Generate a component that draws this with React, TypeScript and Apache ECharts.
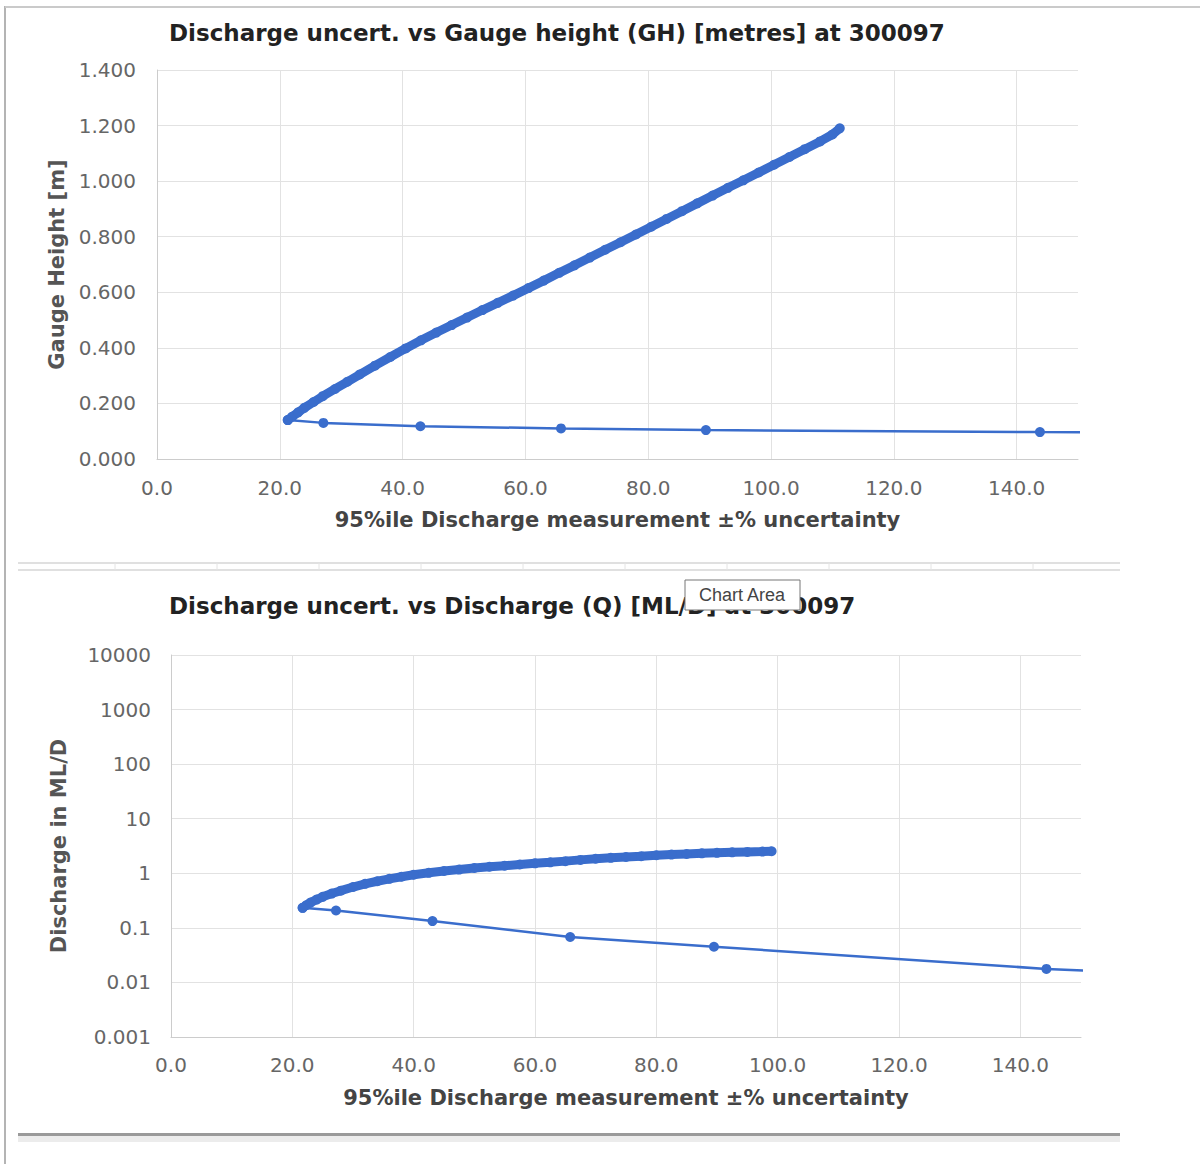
import React, { useEffect, useRef } from "react";
import * as echarts from "echarts";

const FONT = "'DejaVu Sans', sans-serif";
const BLUE = "#3a6dcc";

const gaugeTitle = "Discharge uncert. vs Gauge height (GH) [metres] at 300097";
const dischargeTitle = "Discharge uncert. vs Discharge (Q) [ML/D] at 300097";
const xAxisName = "95%ile Discharge measurement ±% uncertainty";
const gaugeAxisName = "Gauge Height [m]";
const dischargeAxisName = "Discharge in ML/D";
const tooltipText = "Chart Area";

const logTickLabels = ["0.001", "0.01", "0.1", "1", "10", "100", "1000", "10000"];

// Chart 1: uncertainty (%) vs gauge height (m)
const gaugeUpperX = [21.3, 22.0, 23.0, 24.0, 25.5, 27.0, 29.0, 31.0, 33.0, 35.5, 38.0, 40.5, 43.0, 45.5, 48.0, 50.5, 53.0, 55.5, 58.0, 60.5, 63.0, 65.5, 68.0, 70.5, 73.0, 75.5, 78.0, 80.5, 83.0, 85.5, 88.0, 90.5, 93.0, 95.5, 98.0, 100.5, 103.0, 105.5, 108.0, 110.0, 111.2];
const gaugeUpperY = [0.140, 0.152, 0.168, 0.184, 0.205, 0.226, 0.252, 0.278, 0.304, 0.336, 0.367, 0.398, 0.427, 0.455, 0.482, 0.509, 0.536, 0.562, 0.588, 0.615, 0.642, 0.670, 0.697, 0.725, 0.753, 0.780, 0.808, 0.836, 0.864, 0.892, 0.920, 0.948, 0.976, 1.003, 1.031, 1.059, 1.087, 1.115, 1.143, 1.168, 1.190];
const gaugeLowerX = [21.3, 27.1, 42.9, 65.8, 89.4, 143.8, 170];
const gaugeLowerY = [0.140, 0.130, 0.118, 0.110, 0.104, 0.097, 0.095];

// Chart 2: uncertainty (%) vs discharge (ML/D), log scale
const qUpperX = [21.7, 22.3, 23.0, 24.0, 25.0, 26.5, 28.0, 30.0, 32.0, 34.0, 36.0, 38.0, 40.0, 42.5, 45.0, 47.5, 50.0, 52.5, 55.0, 57.5, 60.0, 62.5, 65.0, 67.5, 70.0, 72.5, 75.0, 77.5, 80.0, 82.5, 85.0, 87.5, 90.0, 92.5, 95.0, 97.5, 99.0];
const qUpperY = [0.233, 0.26, 0.29, 0.33, 0.37, 0.425, 0.48, 0.56, 0.64, 0.715, 0.79, 0.865, 0.94, 1.02, 1.10, 1.17, 1.25, 1.32, 1.38, 1.45, 1.52, 1.59, 1.67, 1.76, 1.85, 1.92, 1.99, 2.06, 2.14, 2.20, 2.26, 2.32, 2.37, 2.42, 2.46, 2.50, 2.53];
const qLowerX = [21.7, 27.2, 43.1, 65.8, 89.5, 144.3, 170];
const qLowerY = [0.233, 0.208, 0.133, 0.068, 0.045, 0.0177, 0.0135];

const zip = (xs: number[], ys: number[]) => xs.map((x, i) => [x, ys[i]]);

function xAxisFor(gridIndex: number, labelMargin: number) {
  return {
    type: "value",
    gridIndex,
    min: 0,
    max: 150,
    interval: 20,
    axisLine: { show: true, lineStyle: { color: "#cccccc", width: 1 } },
    axisTick: { show: false },
    axisLabel: {
      formatter: (v: number) => v.toFixed(1),
      showMaxLabel: false,
      color: "#666666",
      fontSize: 20,
      fontFamily: FONT,
      margin: labelMargin,
    },
    splitLine: { show: true, showMaxLine: false, lineStyle: { color: "#e2e2e2", width: 1 } },
    name: xAxisName,
    nameLocation: "middle",
    nameGap: 50,
    nameTextStyle: { fontSize: 21, fontWeight: "bold", color: "#444444", fontFamily: FONT },
  };
}

function thickSeries(xi: number, data: number[][]) {
  return {
    type: "line",
    xAxisIndex: xi,
    yAxisIndex: xi,
    data,
    symbol: "circle",
    symbolSize: 10,
    showAllSymbol: true,
    lineStyle: { color: BLUE, width: 9 },
    itemStyle: { color: BLUE },
    clip: true,
  };
}

function thinSeries(xi: number, data: number[][]) {
  return {
    type: "line",
    xAxisIndex: xi,
    yAxisIndex: xi,
    data,
    symbol: "circle",
    symbolSize: 10,
    showAllSymbol: true,
    lineStyle: { color: BLUE, width: 2.5 },
    itemStyle: { color: BLUE },
    clip: true,
  };
}

export default function App() {
  const ref = useRef<HTMLDivElement>(null);

  useEffect(() => {
    if (!ref.current) return;
    const chart = echarts.init(ref.current, undefined, { renderer: "svg" });

    const sepTicks: any[] = [];
    for (let i = 0; i < 10; i++) {
      sepTicks.push({
        type: "line",
        z: 100,
        shape: { x1: 115 + i * 102, y1: 563, x2: 115 + i * 102, y2: 570 },
        style: { stroke: "#e4e4e4", lineWidth: 1 },
      });
    }

    const option: any = {
      animation: false,
      backgroundColor: "#ffffff",
      title: [
        {
          text: gaugeTitle,
          left: 169,
          top: 21,
          padding: 0,
          textStyle: { fontSize: 23, fontWeight: "bold", color: "#222222", fontFamily: FONT },
        },
        {
          text: dischargeTitle,
          left: 169,
          top: 594,
          padding: 0,
          textStyle: { fontSize: 23, fontWeight: "bold", color: "#222222", fontFamily: FONT },
        },
      ],
      grid: [
        { left: 157, right: 122, top: 70, height: 389, containLabel: false },
        { left: 171, right: 119, top: 655, height: 382, containLabel: false },
      ],
      xAxis: [xAxisFor(0, 19), xAxisFor(1, 18)],
      yAxis: [
        {
          type: "value",
          gridIndex: 0,
          min: 0,
          max: 1.4,
          interval: 0.2,
          axisLine: { show: true, lineStyle: { color: "#cccccc", width: 1 } },
          axisTick: { show: false },
          axisLabel: {
            formatter: (v: number) => v.toFixed(3),
            color: "#666666",
            fontSize: 20,
            fontFamily: FONT,
            margin: 21,
          },
          splitLine: { show: true, lineStyle: { color: "#e2e2e2", width: 1 } },
          name: gaugeAxisName,
          nameLocation: "middle",
          nameGap: 90,
          nameTextStyle: { fontSize: 21, fontWeight: "bold", color: "#555555", fontFamily: FONT },
        },
        {
          type: "log",
          logBase: 10,
          gridIndex: 1,
          min: 0.001,
          max: 10000,
          splitNumber: 7,
          axisLine: { show: true, lineStyle: { color: "#cccccc", width: 1 } },
          axisTick: { show: false },
          axisLabel: {
            formatter: (v: number) => logTickLabels[Math.round(Math.log10(v)) + 3],
            color: "#666666",
            fontSize: 20,
            fontFamily: FONT,
            margin: 20,
          },
          splitLine: { show: true, lineStyle: { color: "#e2e2e2", width: 1 } },
          minorTick: { show: false },
          minorSplitLine: { show: false },
          name: dischargeAxisName,
          nameLocation: "middle",
          nameGap: 102,
          nameTextStyle: { fontSize: 21, fontWeight: "bold", color: "#555555", fontFamily: FONT },
        },
      ],
      series: [
        thickSeries(0, zip(gaugeUpperX, gaugeUpperY)),
        thinSeries(0, zip(gaugeLowerX, gaugeLowerY)),
        thickSeries(1, zip(qUpperX, qUpperY)),
        thinSeries(1, zip(qLowerX, qLowerY)),
      ],
      graphic: [
        { type: "line", z: 100, shape: { x1: 5, y1: 6, x2: 5, y2: 1164 }, style: { stroke: "#b4b4b4", lineWidth: 2 } },
        { type: "line", z: 100, shape: { x1: 5, y1: 7, x2: 1200, y2: 7 }, style: { stroke: "#cacaca", lineWidth: 2 } },
        { type: "line", z: 100, shape: { x1: 18, y1: 563, x2: 1120, y2: 563 }, style: { stroke: "#d6d6d6", lineWidth: 1.5 } },
        { type: "line", z: 100, shape: { x1: 18, y1: 570, x2: 1120, y2: 570 }, style: { stroke: "#d6d6d6", lineWidth: 1.5 } },
        ...sepTicks,
        { type: "rect", z: 100, shape: { x: 18, y: 1133, width: 1102, height: 3 }, style: { fill: "#9a9a9a" } },
        { type: "rect", z: 100, shape: { x: 18, y: 1136, width: 1102, height: 6 }, style: { fill: "#ececec" } },
        {
          type: "group",
          z: 200,
          children: [
            {
              type: "rect",
              z: 200,
              shape: { x: 685, y: 580, width: 115, height: 30 },
              style: { fill: "#ffffff", stroke: "#777777", lineWidth: 1 },
            },
            {
              type: "text",
              z: 201,
              x: 742,
              y: 595,
              style: {
                text: tooltipText,
                fill: "#444444",
                font: "18px 'Liberation Sans', sans-serif",
                textAlign: "center",
                textVerticalAlign: "middle",
              },
            },
          ],
        },
      ],
    };

    chart.setOption(option);
    return () => chart.dispose();
  }, []);

  return (
    <div
      ref={ref}
      style={{ position: "absolute", left: 0, top: 0, width: 1200, height: 1164, background: "#ffffff" }}
    />
  );
}
